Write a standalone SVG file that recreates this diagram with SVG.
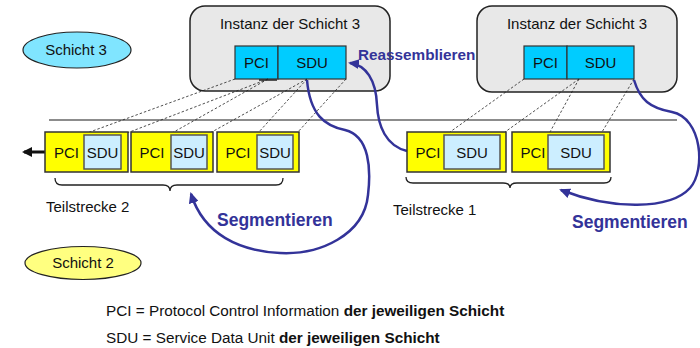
<svg xmlns="http://www.w3.org/2000/svg" width="700" height="348" viewBox="0 0 700 348">
<style>
text{font-family:"Liberation Sans",Arial,sans-serif;fill:#111}
.inst{fill:#e8e8e8;stroke:#222;stroke-width:1.5}
.cy{fill:#00ccff;stroke:#333;stroke-width:1.2}
.yb{fill:#ffff00;stroke:#333;stroke-width:1.5}
.sb{fill:#cceeff;stroke:#555;stroke-width:1.5}
.dash{stroke:#222;stroke-width:0.8;stroke-dasharray:2.5,2;fill:none}
.blue{fill:none;stroke:#333399;stroke-width:2.5}
.bl{fill:#333399;font-weight:bold}
.brace{fill:none;stroke:#222;stroke-width:1.3}
.t15{font-size:15px}
</style>
<defs>
<marker id="ah" markerUnits="userSpaceOnUse" markerWidth="11" markerHeight="10" refX="9" refY="5" orient="auto">
<path d="M0,0 L11,5 L0,10 z" fill="#333399"/>
</marker>
<marker id="ak" markerUnits="userSpaceOnUse" markerWidth="10" markerHeight="10" refX="8" refY="5" orient="auto">
<path d="M0,0 L10,5 L0,10 z" fill="#111"/>
</marker>
</defs>

<g id="schicht3">
<ellipse cx="77" cy="50" rx="54" ry="18" fill="#80e5ff" stroke="#222" stroke-width="1.2"/>
<text class="t15" x="76" y="55" text-anchor="middle">Schicht 3</text>
</g>
<g id="schicht2">
<ellipse cx="83" cy="263" rx="58" ry="16.5" fill="#ffff80" stroke="#222" stroke-width="1.2"/>
<text class="t15" x="83" y="268" text-anchor="middle">Schicht 2</text>
</g>

<line x1="49" y1="120" x2="677" y2="120" stroke="#666" stroke-width="1.5"/>

<g id="instanz-links">
<rect class="inst" x="190" y="6" width="200" height="85" rx="15"/>
<text class="t15" x="290" y="29" text-anchor="middle">Instanz der Schicht 3</text>
<rect class="cy" x="235" y="46" width="43" height="33"/>
<rect class="cy" x="278" y="46" width="68" height="33"/>
<text class="t15" x="256.5" y="68" text-anchor="middle">PCI</text>
<text class="t15" x="312" y="68" text-anchor="middle">SDU</text>
<line x1="259" y1="80" x2="277" y2="80" stroke="#222" stroke-width="1.5"/>
</g>

<g id="instanz-rechts">
<rect class="inst" x="477" y="6" width="200" height="86" rx="15"/>
<text class="t15" x="577" y="29" text-anchor="middle">Instanz der Schicht 3</text>
<rect class="cy" x="524" y="46" width="43" height="33"/>
<rect class="cy" x="567" y="46" width="67" height="33"/>
<text class="t15" x="545.5" y="68" text-anchor="middle">PCI</text>
<text class="t15" x="600.5" y="68" text-anchor="middle">SDU</text>
</g>

<g id="connectors">
<path class="dash" d="M235,79 L87,133 M268,79 L127,133 M268,79 L172,133 M307,79 L210,133 M307,79 L258,133 M346,79 L297,133"/>
<path class="dash" d="M524,79 L450,132 M579,79 L505,132 M579,79 L550,132 M634,79 L602,132"/>
<path class="blue" marker-end="url(#ah)" d="M307,80 C310,115 325,126 345,130 C370,136 371,170 368,195 C364,235 320,255 280,253 C240,251 204,235 191,194"/>
<path class="blue" marker-end="url(#ah)" d="M407,151 C386,146 378,126 377,105 C376,80 366,65 350,63"/>
<path class="blue" marker-end="url(#ah)" d="M634,80 C640,100 650,108 672,112 C702,118 706,170 690,188 C670,210 612,210 561,190"/>
<line x1="45" y1="152" x2="24" y2="152" stroke="#111" stroke-width="3" marker-end="url(#ak)"/>
<path class="brace" d="M55,178 Q55,185 62,185 L163,185 Q170,185 170,191 Q170,185 177,185 L276,185 Q283,185 283,178"/>
<path class="brace" d="M406,177 Q406,183 413,183 L503,183 Q510,183 510,188 Q510,183 517,183 L604,183 Q611,183 611,177"/>
</g>

<g id="seg-l1">
<rect class="yb" x="45" y="132" width="83" height="40"/>
<rect class="sb" x="84" y="135" width="37" height="34"/>
<text class="t15" x="66.5" y="158" text-anchor="middle">PCI</text>
<text class="t15" x="102.5" y="158" text-anchor="middle">SDU</text>
</g>
<g id="seg-l2">
<rect class="yb" x="131" y="132" width="82" height="40"/>
<rect class="sb" x="171" y="135" width="36" height="34"/>
<text class="t15" x="152" y="158" text-anchor="middle">PCI</text>
<text class="t15" x="189" y="158" text-anchor="middle">SDU</text>
</g>
<g id="seg-l3">
<rect class="yb" x="217" y="132" width="82" height="40"/>
<rect class="sb" x="257" y="135" width="36" height="34"/>
<text class="t15" x="238" y="158" text-anchor="middle">PCI</text>
<text class="t15" x="275" y="158" text-anchor="middle">SDU</text>
</g>
<g id="seg-r1">
<rect class="yb" x="407" y="132" width="99" height="40"/>
<rect class="sb" x="444" y="135" width="56" height="34"/>
<text class="t15" x="428" y="158" text-anchor="middle">PCI</text>
<text class="t15" x="472" y="158" text-anchor="middle">SDU</text>
</g>
<g id="seg-r2">
<rect class="yb" x="512" y="132" width="98" height="40"/>
<rect class="sb" x="548" y="135" width="56" height="34"/>
<text class="t15" x="533" y="158" text-anchor="middle">PCI</text>
<text class="t15" x="576" y="158" text-anchor="middle">SDU</text>
</g>

<g id="labels">
<text class="t15" x="46" y="212">Teilstrecke 2</text>
<text class="t15" x="393" y="215">Teilstrecke 1</text>
<text class="bl" x="217" y="226" font-size="17.5">Segmentieren</text>
<text class="bl" x="572" y="228" font-size="17.5">Segmentieren</text>
<text class="bl" x="358" y="60" font-size="15.3">Reassemblieren</text>
<text x="106" y="316" font-size="15.3">PCI = Protocol Control Information <tspan font-weight="bold">der jeweiligen Schicht</tspan></text>
<text x="106" y="343" font-size="15.3">SDU = Service Data Unit <tspan font-weight="bold">der jeweiligen Schicht</tspan></text>
</g>
</svg>
